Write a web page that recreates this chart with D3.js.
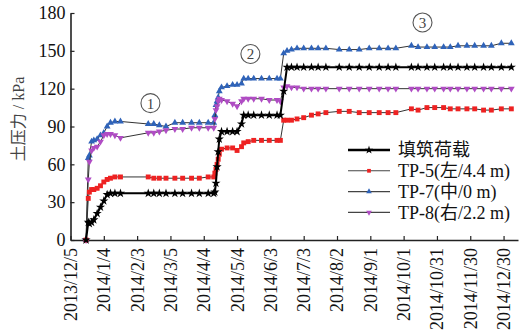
<!DOCTYPE html>
<html>
<head>
<meta charset="utf-8">
<script src="https://cdn.jsdelivr.net/npm/d3@7"></script>
<style>
  body { margin: 0; background: #fff; }
  svg text { font-family: "Liberation Serif", "Times New Roman", "Noto Sans CJK SC", serif; }
</style>
</head>
<body>
<svg id="chart" width="522" height="333"></svg>
<script>
// Survey start date and the dated x-axis ticks
const startDate = "2013/12/5";
const tickLabels = ["2013/12/5", "2014/1/4", "2014/2/3", "2014/3/5", "2014/4/4", "2014/5/4",
  "2014/6/3", "2014/7/3", "2014/8/2", "2014/9/1", "2014/10/1", "2014/10/31", "2014/11/30", "2014/12/30"];
const yTicks = [0, 30, 60, 90, 120, 150, 180];

// Measurement days (days elapsed since startDate)
const days = [14, 16, 17, 19, 21, 24, 27, 30, 33, 36, 40, 45,
  70, 75, 80, 86, 94, 101, 109, 116, 124, 129,
  130, 131, 132, 133, 134, 136, 141, 146, 150, 154, 156, 160, 165, 172, 179, 186, 189,
  192, 195, 199, 204, 210, 217, 223, 230, 242, 251, 260, 269, 278, 286, 293,
  307, 313, 321, 328, 336, 342, 349, 357, 364, 372, 379, 388, 397];

// Fill load (kPa)
const fillLoad = [0, 14, 13, 14, 16, 21, 26, 31, 36, 37, 37, 37,
  37, 37, 37, 37, 37, 37, 37, 37, 37, 37,
  38, 45, 58, 70, 80, 86, 86, 86, 86, 92, 99, 99, 99, 99, 99, 99, 99,
  118, 137, 137, 137, 137, 137, 137, 137, 137, 137, 137, 137, 137, 137, 137,
  137, 137, 137, 137, 137, 137, 137, 137, 137, 137, 137, 137, 137];

// Earth pressure cells (kPa)
const tp5 = [0, 33, 38, 40, 40, 41, 43, 46, 48, 49, 50, 50,
  50, 49, 49, 49, 49, 49, 49, 49, 50, 50,
  53, 56, 60, 64, 68, 72, 73, 73, 71, 74, 77, 78, 79, 79, 79, 79, 79,
  95, 95, 95, 96, 97, 99, 100, 101, 102, 102, 101, 101, 101, 101, 101,
  104, 103, 105, 105, 105, 104, 104, 104, 104, 103, 103, 104, 104];

const tp7 = [0, 65, 67, 78, 79, 80, 83, 85, 90, 93, 94, 94,
  92, 92, 91, 90, 93, 93, 93, 93, 93, 93,
  99, 107, 110, 113, 118, 121, 122, 123, 123, 124, 128, 128, 128, 128, 128, 128, 128,
  148, 150, 151, 152, 152, 152, 152, 152, 151, 151, 151, 152, 152, 152, 152,
  154, 153, 153, 153, 153, 153, 154, 154, 154, 154, 154, 156, 156];

const tp8 = [0, 48, 62, 71, 73, 74, 78, 83, 84, 84, 83, 81,
  85, 85, 86, 87, 88, 88, 89, 89, 89, 89,
  96, 103, 106, 110, 112, 111, 110, 108, 106, 110, 112, 112, 112, 112, 111, 111, 110,
  121, 122, 121, 121, 120, 120, 120, 120, 120, 120, 120, 120, 120, 120, 120,
  120, 120, 120, 120, 120, 120, 120, 120, 120, 120, 120, 120, 120];

const seriesNames = ["填筑荷载", "TP-5(左/4.4 m)", "TP-7(中/0 m)", "TP-8(右/2.2 m)"];

// Loading-stage annotations
const stageDays = [72, 162, 317];
const stageValues = [108.5, 147.5, 172.5];
const stageLabels = ["1", "2", "3"];

const svg = d3.select("#chart");
const parse = d3.timeParse("%Y/%m/%d");
const t0 = parse(startDate);
const dateOf = d => d3.timeDay.offset(t0, d);

const x = d3.scaleTime()
  .domain([t0, dateOf(403)])
  .range([70.5, 518]);
const y = d3.scaleLinear().domain([0, 180]).range([240, 13]);

const axisColor = "#222";

// X axis
const xAxis = svg.append("g")
  .attr("transform", "translate(0,240)")
  .call(d3.axisBottom(x)
    .tickValues(tickLabels.map(parse))
    .tickFormat((d, i) => tickLabels[i])
    .tickSizeInner(-4).tickSizeOuter(0));
xAxis.select(".domain").attr("stroke", axisColor).attr("stroke-width", 1.6);
xAxis.selectAll(".tick line").attr("stroke", axisColor).attr("stroke-width", 1.2);
xAxis.selectAll(".tick text")
  .attr("transform", "rotate(-90)")
  .attr("text-anchor", "end")
  .attr("x", -8).attr("y", 0).attr("dy", "0.33em")
  .attr("font-size", 18).attr("fill", "#111");

// Y axis
const yAxis = svg.append("g")
  .attr("transform", "translate(70.5,0)")
  .call(d3.axisLeft(y).tickValues(yTicks).tickSizeInner(-4).tickSizeOuter(0).tickPadding(5));
yAxis.select(".domain").attr("stroke", axisColor).attr("stroke-width", 1.6);
yAxis.selectAll(".tick line").attr("stroke", axisColor).attr("stroke-width", 1.2);
yAxis.selectAll(".tick text").attr("font-size", 18).attr("fill", "#111");

svg.append("text")
  .attr("transform", "translate(24,119) rotate(-90)")
  .attr("text-anchor", "middle")
  .attr("font-size", 16).attr("fill", "#444")
  .text("土压力 / kPa");

// Series definitions
const downTriangle = {
  draw(ctx, size) {
    const h = Math.sqrt(size / (Math.sqrt(3) * 3));
    ctx.moveTo(0, h * 2);
    ctx.lineTo(-Math.sqrt(3) * h, -h);
    ctx.lineTo(Math.sqrt(3) * h, -h);
    ctx.closePath();
  }
};

const series = [
  { name: seriesNames[2], values: tp7, color: "#2f63b9", symbol: d3.symbolTriangle, size: 20, line: "#333", lw: 1 },
  { name: seriesNames[3], values: tp8, color: "#b04cc4", symbol: downTriangle, size: 20, line: "#333", lw: 1 },
  { name: seriesNames[1], values: tp5, color: "#ee2222", symbol: d3.symbolSquare, size: 24, line: "#333", lw: 1 },
  { name: seriesNames[0], values: fillLoad, color: "#000", symbol: d3.symbolStar, size: 26, line: "#000", lw: 2 }
];

const line = d3.line()
  .x((v, i) => x(dateOf(days[i])))
  .y(v => y(v));

series.forEach(s => {
  svg.append("path")
    .attr("d", line(s.values))
    .attr("fill", "none")
    .attr("stroke", s.line)
    .attr("stroke-width", s.lw);
  svg.append("g").selectAll("path")
    .data(s.values)
    .join("path")
    .attr("transform", (v, i) => `translate(${x(dateOf(days[i]))},${y(v)})`)
    .attr("d", d3.symbol(s.symbol, s.size))
    .attr("fill", s.color);
});

// Stage annotations (circled numerals)
const stages = svg.append("g");
stageDays.forEach((d, i) => {
  const cx = x(dateOf(d)), cy = y(stageValues[i]);
  stages.append("circle")
    .attr("cx", cx).attr("cy", cy).attr("r", 9.5)
    .attr("fill", "none").attr("stroke", "#555").attr("stroke-width", 1.1);
  stages.append("text")
    .attr("x", cx).attr("y", cy).attr("dy", "0.36em")
    .attr("text-anchor", "middle")
    .attr("font-size", 15).attr("fill", "#444")
    .text(stageLabels[i]);
});

// Legend
const legendOrder = [3, 2, 0, 1];
const legend = svg.append("g").attr("transform", "translate(348,150)");
legendOrder.forEach((si, row) => {
  const s = series[si];
  const g = legend.append("g").attr("transform", `translate(0,${row * 20.8})`);
  g.append("line").attr("x1", 0).attr("x2", 42).attr("y1", 0).attr("y2", 0)
    .attr("stroke", si === 3 ? "#000" : "#444")
    .attr("stroke-width", si === 3 ? 2.6 : 1.1);
  g.append("path")
    .attr("transform", "translate(21,0)")
    .attr("d", d3.symbol(s.symbol, si === 3 ? 22 : 14))
    .attr("fill", s.color);
  g.append("text")
    .attr("x", 50).attr("y", 0).attr("dy", "0.35em")
    .attr("font-size", 18).attr("fill", "#111")
    .text(s.name);
});
</script>
</body>
</html>
